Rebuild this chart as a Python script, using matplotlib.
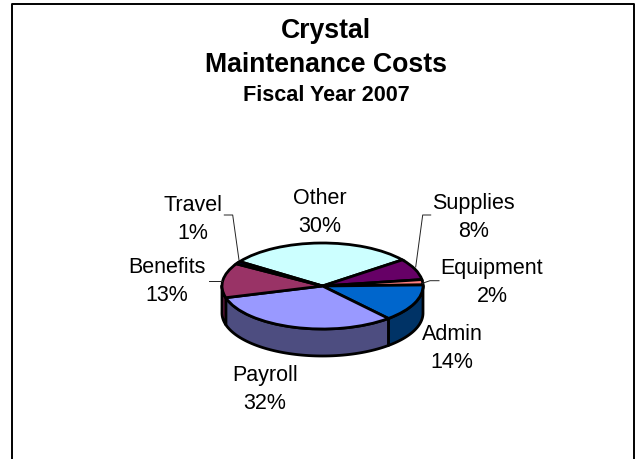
#! /usr/bin/env python
"""Crystal maintenance costs, tilted pie with a side wall."""

import matplotlib
matplotlib.use('Agg')
import matplotlib.pyplot as plt
import numpy as np

categories = ['Other', 'Supplies', 'Equipment', 'Admin', 'Payroll',
              'Benefits', 'Travel']
values = [30, 8, 2, 14, 32, 13, 1]
top_colors = ['#CCFFFF', '#660066', '#FF8080', '#0066CC', '#9999FF',
              '#993366', '#000080']
side_colors = ['#668080', '#330033', '#804040', '#003366', '#4D4D80',
               '#802050', '#000040']

plt.rcParams['font.family'] = ['Liberation Sans', 'DejaVu Sans']

W, H = 638, 460
CX, CY, RX, RY = 322.5, 287, 100.5, 43
DEPTH = 27 / 43
START = 145.4

fig = plt.figure()
fig.set_size_inches(W / 100, H / 100)
fig.set_dpi(100)

# Overlay in pixel coordinates for the frame and the text
over = fig.add_axes([0, 0, 1, 1], zorder=3)
over.set_xlim(0, W)
over.set_ylim(H, 0)
over.axis('off')

# Axes sized so the unit circle comes out as the flattened ellipse
pie_ax = fig.add_axes([(CX - 1.25 * RX) / W, 1 - (CY + 1.25 * RY) / H,
                       2.5 * RX / W, 2.5 * RY / H], zorder=2)
pie_ax.set_clip_on(False)

# Side wall, only the front half of the rim shows
angles = START - np.cumsum([0] + values) * 3.6
for i in range(len(values)):
    a = np.linspace(angles[i], angles[i + 1], 60)
    a = np.radians(a)
    a = a[np.sin(a) < 0.02]
    if len(a) < 2:
        continue
    x = np.cos(a)
    y = np.sin(a)
    pie_ax.fill(np.r_[x, x[::-1]], np.r_[y, y[::-1] - DEPTH],
                facecolor=side_colors[i], edgecolor='black', linewidth=2.0,
                joinstyle='round', clip_on=False, zorder=1)

wedges, _ = pie_ax.pie(values, colors=top_colors, startangle=START,
                       counterclock=False,
                       wedgeprops={'edgecolor': 'black', 'linewidth': 2.0,
                                   'clip_on': False, 'zorder': 2})
pie_ax.set_aspect('auto')
pie_ax.set_xlim(-1.25, 1.25)
pie_ax.set_ylim(-1.25, 1.25)

# Chart frame, runs off the bottom of the image
over.plot([12, 12, 634, 634], [H + 5, 4.5, 4.5, H + 5], color='black', lw=1.4,
          clip_on=False)

over.text(326, 38, 'Crystal', ha='center', va='baseline', fontsize=19.2,
          fontweight='bold')
over.text(326, 72, 'Maintenance Costs', ha='center', va='baseline',
          fontsize=19.2, fontweight='bold')
over.text(326, 101, 'Fiscal Year 2007', ha='center', va='baseline',
          fontsize=15.6, fontweight='bold')

# x centre and baseline of the lower line of each label
label_pos = [(319.5, 232), (473.5, 237), (492, 302), (452, 368), (265, 409),
             (167, 301), (192.5, 239)]
for name, val, (lx, ly) in zip(categories, values, label_pos):
    over.text(lx, ly, '%s\n%d%%' % (name, val), ha='center', va='baseline',
              fontsize=15.5, linespacing=1.45)

# Leader lines
leaders = [[(224.3, 216), (232.7, 216), (239, 261)],
           [(430.7, 216), (422.7, 216), (415.7, 268)],
           [(439, 281.7), (430, 281.7), (422.3, 284.3)],
           [(209.3, 281.7), (221.7, 281.7)]]
for pts in leaders:
    over.plot([p[0] for p in pts], [p[1] for p in pts], color='#222222', lw=0.7)

fig.savefig('out.png', dpi=100)
